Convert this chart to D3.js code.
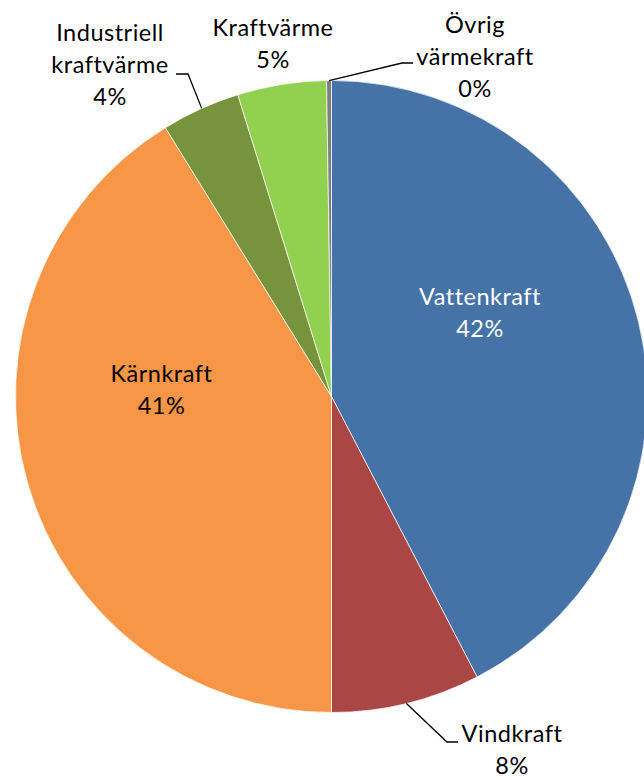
<!DOCTYPE html>
<html><head><meta charset="utf-8">
<script src="https://cdn.jsdelivr.net/npm/d3@7/dist/d3.min.js"></script>
<style>body{margin:0;background:#fff}svg{display:block}</style>
</head><body>
<script>
const categories = ["Vattenkraft","Vindkraft","Kärnkraft","Industriell kraftvärme","Kraftvärme","Övrig värmekraft"];
const values = [42.38, 7.62, 41.19, 4.02, 4.54, 0.25];
const percentLabels = ["42%","8%","41%","4%","5%","0%"];
const labelLines = [["Vattenkraft","42%"],["Vindkraft","8%"],["Kärnkraft","41%"],["Industriell","kraftvärme","4%"],["Kraftvärme","5%"],["Övrig","värmekraft","0%"]];
const colors = ["#4572A7","#AA4643","#F79646","#77933C","#92D050","#7F7F7F"];

const W=644,H=780, cx=331.5, cy=396.5, R=316;
const svg=d3.select("body").append("svg").attr("width",W).attr("height",H);
const pie=d3.pie().sort(null).value(d=>d);
const arcs=pie(values);
const arc=d3.arc().innerRadius(0).outerRadius(R);
const g=svg.append("g").attr("transform",`translate(${cx},${cy})`);
g.selectAll("path").data(arcs).join("path").attr("d",arc)
  .attr("fill",(d,i)=>colors[i]).attr("stroke","#fff").attr("stroke-width",0.7);

const labelPos = [
  {x:480, y:305, color:"#fff"},
  {x:512, y:742, color:"#000"},
  {x:161.5, y:382, color:"#000"},
  {x:110, y:41, color:"#000"},
  {x:273, y:36, color:"#000"},
  {x:475, y:33, color:"#000"}
];
const lineH=32;
labelLines.forEach((lines,i)=>{
  const p=labelPos[i];
  const t=svg.append("text").attr("text-anchor","middle")
    .attr("font-family","Lato, 'Open Sans', sans-serif").attr("font-size",23.5)
    .attr("letter-spacing","0.5px")
    .attr("fill",p.color);
  lines.forEach((s,k)=>{
    t.append("tspan").attr("x",p.x).attr("y",p.y+k*lineH).text(s);
  });
});
function edgePoint(i, frac){
  const a=arcs[i].startAngle+(arcs[i].endAngle-arcs[i].startAngle)*frac;
  return [cx+R*Math.sin(a), cy-R*Math.cos(a)];
}
const leaders=[
  {i:1, frac:0.5, pts:[[447,742],[458,742]]},
  {i:3, frac:0.516, pts:[[188,74],[176,74]]},
  {i:5, frac:0.5, pts:[[402,63],[413,63]]}
];
leaders.forEach(L=>{
  const e=edgePoint(L.i,L.frac);
  svg.append("path").attr("d",d3.line()([e,...L.pts]))
    .attr("fill","none").attr("stroke","#000").attr("stroke-width",1.3);
});
</script>
</body></html>
